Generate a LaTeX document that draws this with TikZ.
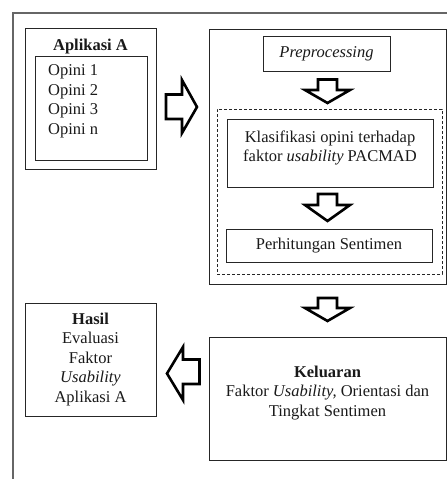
\documentclass[tikz,border=0pt]{standalone}
\usepackage{fontspec}
\setmainfont{Liberation Serif}
\begin{document}
\begin{tikzpicture}[x=1pt,y=-1pt,
  every node/.style={font=\fontsize{16.5}{19.5}\selectfont, inner sep=0pt},
  box/.style={draw=black!85, line width=1pt, rectangle},
  dashbox/.style={draw=black!85, line width=0.9pt, dash pattern=on 3pt off 2pt},
  frame/.style={draw=black!60, line width=1.3pt},
  bigarrow/.style={draw=black, line width=2.6pt, fill=white, line join=miter, miter limit=10},
  txt/.style={align=center, text=black!90}]
\useasboundingbox (0,0) rectangle (447,479);

% outer frame (only its left and top edges fall on the page)
\coordinate (fbl) at (13,479);
\coordinate (ftl) at (13,13);
\coordinate (ftr) at (447,13);
\draw[frame] (fbl) -- (ftl) -- (ftr);

% input application
\node[box, minimum width=131pt, minimum height=141pt] (appA) at (90.5,98.5) {};
\node[box, minimum width=112pt, minimum height=104pt] (opini) at (91,108) {};
\node[txt, font=\fontsize{16.5}{19.5}\selectfont\bfseries] (appAt) at (90.5,46.5) {Aplikasi A};
\node[txt, align=left, anchor=north west] (opinit) at (48,64.5) {Opini 1\\Opini 2\\Opini 3\\Opini n};

% processing block
\node[box, minimum width=237pt, minimum height=255pt] (proc) at (327.5,156.5) {};
\node[box, minimum width=127pt, minimum height=35pt] (prep) at (326.5,53.5) {};
\node[txt] (prept) at (prep) {\itshape Preprocessing};
\node[dashbox, minimum width=225pt, minimum height=165pt] (dash) at (329.5,191.5) {};
\node[box, minimum width=206pt, minimum height=68pt] (klas) at (330,153) {};
\node[txt] (klast) at (330,148) {Klasifikasi opini terhadap\\faktor \textit{usability} PACMAD};
\node[box, minimum width=206pt, minimum height=33pt] (hit) at (329,245.5) {};
\node[txt] (hitt) at (hit) {Perhitungan Sentimen};

% output
\node[box, minimum width=237pt, minimum height=123pt] (out) at (327.5,398.5) {};
\node[txt] (outt) at (327.5,393) {\textbf{Keluaran}\\Faktor \textit{Usability,} Orientasi dan\\Tingkat Sentimen};

% result
\node[box, minimum width=131pt, minimum height=113pt] (res) at (90.5,359.5) {};
\node[txt] (rest) at (90.5,359.5) {\textbf{Hasil}\\Evaluasi\\Faktor\\\textit{Usability}\\Aplikasi A};

% block arrows
\draw[bigarrow] (166,94.5) -- (182,94.5) -- (182,80) -- (197,107) -- (182,133) -- (182,119) -- (166,119) -- cycle;
\draw[bigarrow] (318,79.5) -- (337,79.5) -- (337,90) -- (350,90) -- (327.5,103) -- (305,90) -- (318,90) -- cycle;
\draw[bigarrow] (318,194) -- (337,194) -- (337,205) -- (350,205) -- (327.5,221) -- (305,205) -- (318,205) -- cycle;
\draw[bigarrow] (318,298) -- (337,298) -- (337,308) -- (350,308) -- (327.5,321) -- (305,308) -- (318,308) -- cycle;
\draw[bigarrow] (199.5,359.5) -- (183,359.5) -- (183,347) -- (167,373.5) -- (183,400) -- (183,384) -- (199.5,384) -- cycle;
\end{tikzpicture}
\end{document}
